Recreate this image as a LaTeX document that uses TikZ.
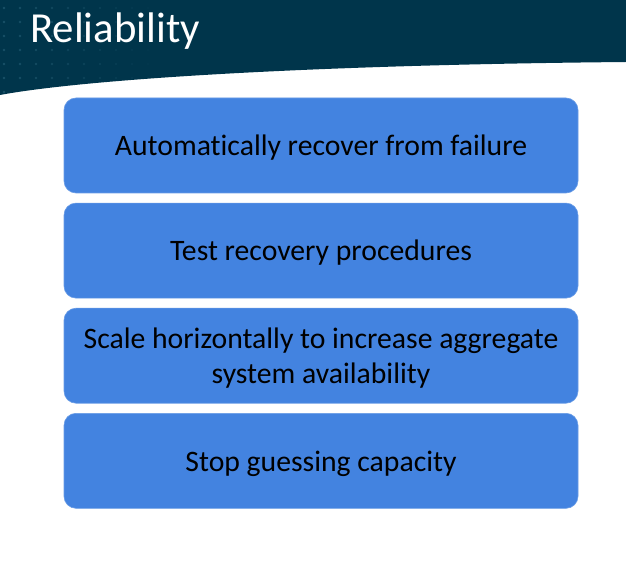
\documentclass[tikz,border=0pt]{standalone}
\usepackage{fontspec}
\setmainfont{Carlito}[Ligatures=CommonOff]
\usetikzlibrary{positioning}
\definecolor{header}{HTML}{00354B}
\definecolor{dots}{HTML}{3F7A92}
\definecolor{card}{HTML}{4383E0}
\begin{document}
\begin{tikzpicture}[x=1pt,y=1pt,node distance=9.5pt,
    card/.style={fill=card,draw=card!80!white,line width=0.6pt,rounded corners=12pt,
      minimum width=514pt,minimum height=95pt,inner sep=0pt,align=center,text depth=0pt,
      text=black,font=\fontsize{29.7}{35}\selectfont}]
  \useasboundingbox (0,0) rectangle (626,560);
  \fill[white] (0,0) rectangle (626,560);
  % header band
  \fill[header] (0,560) -- (626,560) -- (626,498)
    .. controls (300,495) and (80,480) .. (0,465) -- cycle;
  \begin{scope}
    \clip (0,560) -- (626,560) -- (626,498)
      .. controls (300,495) and (80,480) .. (0,465) -- cycle;
    \foreach \i in {0,...,9}
      \foreach \j in {0,...,6}
        \fill[dots,opacity={0.4*(1-\i/10)}] (4+16*\i,552-14*\j) circle (1.3pt);
  \end{scope}
  \node[anchor=base west,text=white,font=\fontsize{42.8}{50}\selectfont,inner sep=0pt]
    (title) at (30,517) {Reliability};
  % cards
  \node[card] (auto) at (321,414.5) {Automatically recover from failure};
  \node[card,below=of auto] (test) {Test recovery procedures};
  \node[card,below=of test] (scale) {Scale horizontally to increase aggregate\\system availability};
  \node[card,below=of scale] (stop) {Stop guessing capacity};
\end{tikzpicture}
\end{document}
